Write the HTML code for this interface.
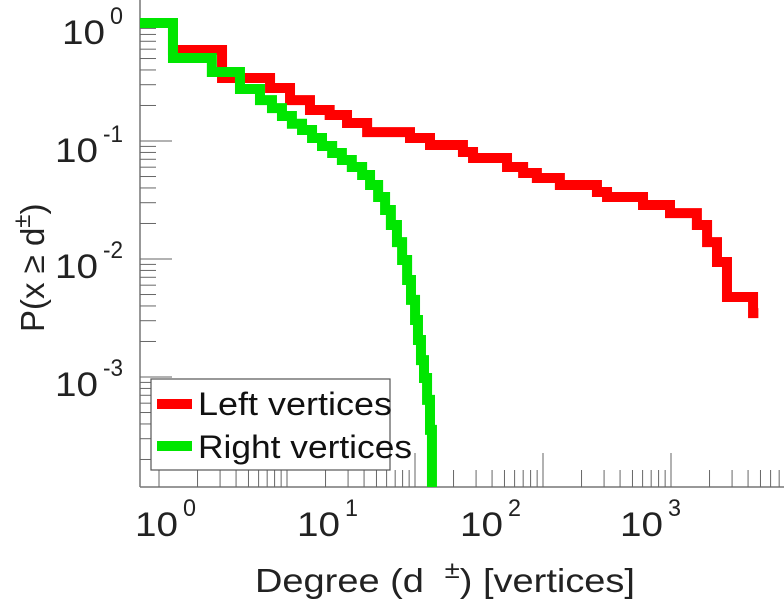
<!DOCTYPE html>
<html><head><meta charset="utf-8"><style>
body{margin:0;background:#fff;}
svg{display:block;font-family:"Liberation Sans",sans-serif;}
</style></head><body>
<svg id="chart" width="784" height="600" viewBox="0 0 784 600" xmlns="http://www.w3.org/2000/svg">
<defs><clipPath id="plotclip"><rect x="140" y="0" width="644" height="487"/></clipPath></defs>
<g id="axes"></g>
<g id="series" clip-path="url(#plotclip)"></g>
<g fill="#222">
<text x="62" y="44" font-size="34" textLength="43" lengthAdjust="spacingAndGlyphs">10</text>
<text x="110" y="24" font-size="24" textLength="13" lengthAdjust="spacingAndGlyphs">0</text>
<text x="55" y="162" font-size="34" textLength="43" lengthAdjust="spacingAndGlyphs">10</text>
<text x="103" y="142" font-size="24" textLength="20" lengthAdjust="spacingAndGlyphs">-1</text>
<text x="55" y="278" font-size="34" textLength="43" lengthAdjust="spacingAndGlyphs">10</text>
<text x="103" y="258" font-size="24" textLength="20" lengthAdjust="spacingAndGlyphs">-2</text>
<text x="55" y="396" font-size="34" textLength="43" lengthAdjust="spacingAndGlyphs">10</text>
<text x="103" y="376" font-size="24" textLength="20" lengthAdjust="spacingAndGlyphs">-3</text>
</g>
<g fill="#222">
<text x="135" y="536" font-size="34" textLength="43" lengthAdjust="spacingAndGlyphs">10</text>
<text x="183" y="516" font-size="24" textLength="13" lengthAdjust="spacingAndGlyphs">0</text>
<text x="297" y="536" font-size="34" textLength="43" lengthAdjust="spacingAndGlyphs">10</text>
<text x="345" y="516" font-size="24" textLength="13" lengthAdjust="spacingAndGlyphs">1</text>
<text x="460" y="536" font-size="34" textLength="43" lengthAdjust="spacingAndGlyphs">10</text>
<text x="508" y="516" font-size="24" textLength="13" lengthAdjust="spacingAndGlyphs">2</text>
<text x="620" y="536" font-size="34" textLength="43" lengthAdjust="spacingAndGlyphs">10</text>
<text x="668" y="516" font-size="24" textLength="13" lengthAdjust="spacingAndGlyphs">3</text>
</g>
<text x="255" y="592" font-size="33" fill="#222" textLength="380" lengthAdjust="spacingAndGlyphs">Degree (d<tspan dy="-14" font-size="24" dx="18">±</tspan><tspan dy="14">) [vertices]</tspan></text>
<text transform="translate(44,332) rotate(-90)" font-size="33" fill="#222">P(x ≥ d<tspan dy="-14" font-size="24">±</tspan><tspan dy="14">)</tspan></text>
<g>
<rect x="151" y="379" width="239" height="91" fill="#fff" stroke="#555" stroke-width="1.2"/>
<line x1="157" y1="404" x2="192" y2="404" stroke="#ff0000" stroke-width="10"/>
<text x="198" y="415" font-size="32" fill="#111" textLength="194" lengthAdjust="spacingAndGlyphs">Left vertices</text>
<line x1="157" y1="446" x2="192" y2="446" stroke="#00e600" stroke-width="10"/>
<text x="198" y="458" font-size="32" fill="#111" textLength="214" lengthAdjust="spacingAndGlyphs">Right vertices</text>
</g>
</svg>
<script>
const leftDegree=[0.73,1.17,2.36,4.69,6.24,8.3,11.0,14.1,18.8,34.7,46.2,74,85.5,139,175,213,296,503,581,972,1430,2100,2430,2800,3230,4690,5060];
const leftP=[1,0.59,0.342,0.281,0.222,0.183,0.166,0.142,0.119,0.106,0.0925,0.0807,0.0718,0.0602,0.0536,0.0486,0.0424,0.037,0.0335,0.0287,0.0245,0.0194,0.0139,0.00944,0.00476,0.00348,0.00348];
const rightDegree=[0.73,1.17,2.04,3.05,4.06,4.82,5.56,6.41,7.41,8.55,9.86,11.4,13.1,15.1,17.5,19.6,22.0,24.3,26.4,28.8,31.0,33.3,35.2,37.3,38.9,40.6,42.4,44.3,46.2,47.5];
const rightP=[1,0.505,0.384,0.276,0.222,0.19,0.163,0.14,0.124,0.106,0.0908,0.0791,0.069,0.0602,0.0515,0.0424,0.0335,0.026,0.0194,0.0139,0.00981,0.00664,0.0045,0.00304,0.00206,0.00139,0.00098,0.00064,0.000356,0.00008];
const xTickDecades=[0,1,2,3,4];
const yTickDecades=[0,-1,-2,-3,-4];

const NS="http://www.w3.org/2000/svg";
function xScale(d){return 162+161*Math.log10(d);}
function yScale(p){return 23-118*Math.log10(p);}
function tickX(d){return 159+128*Math.log10(d);}
function mk(tag,attrs,parent){const e=document.createElementNS(NS,tag);for(const k in attrs)e.setAttribute(k,attrs[k]);parent.appendChild(e);return e;}

const axes=document.getElementById('axes');
const ax1=mk('line',{x1:140,y1:0,x2:140,y2:487,stroke:'#777','stroke-width':1.5},axes);


const ax2=mk('line',{x1:140,y1:487,x2:784,y2:487,stroke:'#777','stroke-width':1.5},axes);


yTickDecades.forEach(dec=>{
  for(let m=1;m<10;m++){
    const y=yScale(m*Math.pow(10,dec));
    if(y<0||y>487)continue;
    const t=mk('line',{x1:140,y1:y,x2:140+(m===1?32:16),y2:y,stroke:'#666','stroke-width':1},axes);
    
    
  }
});
xTickDecades.forEach(dec=>{
  for(let m=1;m<10;m++){
    const x=tickX(m*Math.pow(10,dec));
    if(x<140||x>784)continue;
    const t=mk('line',{x1:x,y1:487,x2:x,y2:487-(m===1?34:17),stroke:'#666','stroke-width':1},axes);
    
    
  }
});

function stepPath(xs,ps){
  let d='M'+xScale(xs[0])+','+yScale(ps[0]);
  for(let i=1;i<xs.length;i++){
    d+=' H'+xScale(xs[i])+' V'+yScale(ps[i]);
  }
  return d;
}
const series=document.getElementById('series');
const red=mk('path',{d:stepPath(leftDegree,leftP),fill:'none',stroke:'#ff0000','stroke-width':10,'stroke-linejoin':'miter'},series);


const green=mk('path',{d:stepPath(rightDegree,rightP),fill:'none',stroke:'#00e600','stroke-width':10,'stroke-linejoin':'miter'},series);


</script>
</body></html>
